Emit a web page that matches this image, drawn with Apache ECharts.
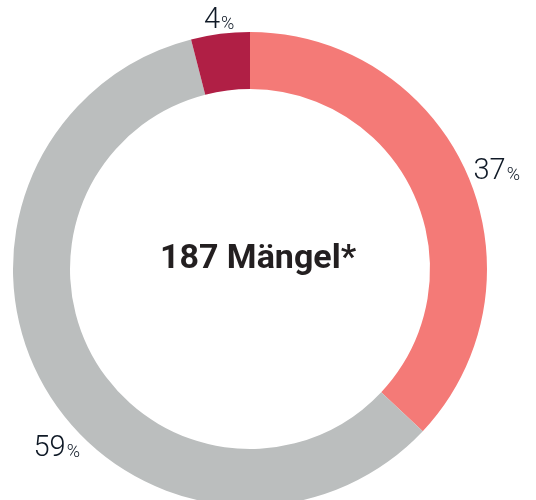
<!DOCTYPE html>
<html>
<head>
<meta charset="utf-8">
<script src="https://cdn.jsdelivr.net/npm/echarts@6/dist/echarts.min.js"></script>
<style>
html,body{margin:0;padding:0;background:#fff;}
#chart{width:536px;height:500px;}
</style>
</head>
<body>
<div id="chart"></div>
<script>
// ---- data ----
var categories = ['A', 'B', 'C'];
var percentValues = [37, 59, 4];
var centerText = '187 Mängel*';

// ---- styles ----
var sliceColors = ['#f47a77', '#bbbebe', '#b01f45'];
var labelNudges = [[6, -4], [34, 58], [14, -14]];

var chart = echarts.init(document.getElementById('chart'), null, {renderer: 'canvas'});
var seriesData = categories.map(function (c, i) {
  return { name: c, value: percentValues[i], itemStyle: { color: sliceColors[i] } };
});

chart.setOption({
  animation: false,
  title: {
    text: centerText,
    left: 253,
    top: 235,
    textAlign: 'center',
    textStyle: { fontFamily: 'Roboto', fontWeight: 'bold', fontSize: 34, color: '#231f20', lineHeight: 38 }
  },
  series: [{
    type: 'pie',
    center: [250, 269],
    radius: [180, 237],
    startAngle: 90,
    clockwise: true,
    avoidLabelOverlap: false,
    silent: true,
    data: seriesData,
    itemStyle: { borderWidth: 0 },
    label: {
      show: true,
      position: 'outside',
      distanceToLabelLine: 0,
      width: 62,
      formatter: function (p) { return '{n|' + p.value + '}{p|%}'; },
      rich: {
        n: { fontFamily: 'Roboto', fontWeight: 300, fontSize: 29, color: '#0f1926', verticalAlign: 'bottom', lineHeight: 31 },
        p: { fontFamily: 'Roboto', fontWeight: 300, fontSize: 18, color: '#0f1926', verticalAlign: 'bottom', lineHeight: 20, padding: [0, 0, 2, 1] }
      }
    },
    labelLine: { show: false, length: 0, length2: 0 },
    labelLayout: function (params) {
      var d = labelNudges[params.dataIndex];
      return { dx: d[0], dy: d[1] };
    }
  }]
});
</script>
</body>
</html>
